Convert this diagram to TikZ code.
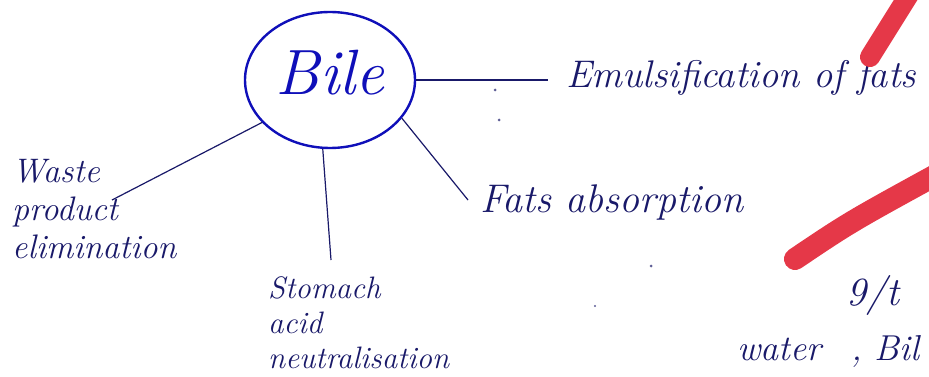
\documentclass[tikz,border=0pt]{standalone}
\usetikzlibrary{shapes.geometric}
\definecolor{ink}{RGB}{25,25,105}
\definecolor{pen}{RGB}{15,15,185}
\definecolor{marker}{RGB}{229,56,72}
\tikzset{
  hand/.style={text=ink, inner sep=0pt, align=left},
  speck/.style={fill=ink!70},
}
\begin{document}
\begin{tikzpicture}[x=1pt,y=-1pt]
      \useasboundingbox[fill=white] (0,0) rectangle (929,377);
      \node[ellipse, draw=pen, line width=2.4pt, minimum width=170pt, minimum height=136pt,
        inner sep=0pt, text=pen, text depth=16pt, font=\itshape\fontsize{64}{64}\selectfont]
        (bile) at (330,80) {Bile};
      \node[hand, font=\itshape\fontsize{38.5}{40}\selectfont, anchor=base west]
        (emul) at (566,88) {Emulsification of fats};
      \node[hand, font=\itshape\fontsize{40}{40}\selectfont, anchor=base west]
        (absorb) at (480,212) {Fats absorption};
      \node[hand, font=\itshape\fontsize{34}{38}\selectfont, anchor=base west]
        (waste) at (12,258) {Waste\\product\\elimination};
      \node[hand, font=\itshape\fontsize{31}{35}\selectfont, anchor=base west]
        (stomach) at (268,368) {Stomach\\acid\\neutralisation};
      \node[hand, font=\itshape\fontsize{40}{40}\selectfont, anchor=base west]
        (git) at (846,305) {9/t};
      \node[hand, font=\itshape\fontsize{36}{36}\selectfont, anchor=base west]
        (water) at (737,360) {water\hspace{30pt}, Bil};
      \coordinate (emulend) at (548,80);
      \coordinate (wasteend) at (112,200);
      \coordinate (stomachend) at (331,260);
      \coordinate (absorbend) at (468,200);
      \begin{scope}[ink, line width=1.2pt]
        \draw (bile.0) to (emulend);
        \draw (bile.-148) to (wasteend);
        \draw (bile.-96) to (stomachend);
        \draw (bile.-28) to (absorbend);
      \end{scope}
      \fill[speck] (495,90) circle (1.5pt);
      \fill[speck] (499,120) circle (1.5pt);
      \fill[speck] (651,266) circle (1.5pt);
      \fill[speck] (595,306) circle (1.2pt);
      \begin{scope}
        \clip (0,0) rectangle (929,377);
        \draw[marker, line width=20pt, line cap=round] (870,57) -- (915,-15);
        \draw[marker, line width=22pt, line cap=round] (795,259) .. controls (850,222) .. (945,170);
      \end{scope}
    \end{tikzpicture}
\end{document}
